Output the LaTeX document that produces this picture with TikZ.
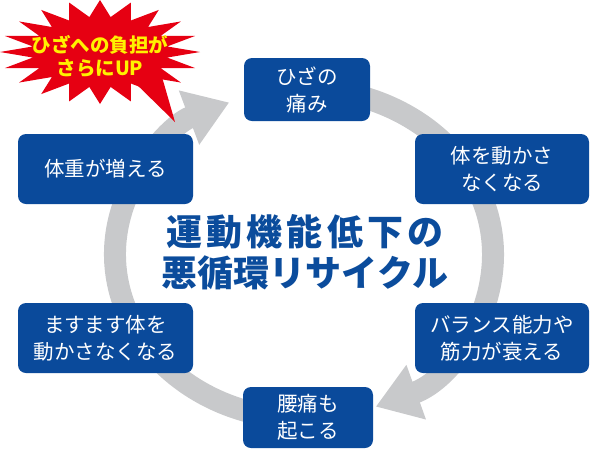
\documentclass[tikz,border=0pt]{standalone}
\usepackage{fontspec}
\setmainfont{Noto Sans CJK JP}
\usetikzlibrary{arrows.meta}
\definecolor{boxblue}{HTML}{0A4A9B}
\definecolor{titleblue}{HTML}{0B4C9C}
\definecolor{ringgray}{HTML}{C8C9CB}
\definecolor{burstred}{HTML}{E60012}
\definecolor{burstyellow}{HTML}{FFF100}
\tikzset{
  box/.style={fill=boxblue, rounded corners=8pt, text=white, align=center,
    font=\fontsize{20.5}{27}\selectfont, inner sep=0pt},
  ring/.style={draw=ringgray, line width=22pt},
  ringtip/.style={-{Triangle[length=43pt,width=55pt]}},
  burst/.style={fill=burstred},
}
\begin{document}
\begin{tikzpicture}[x=1pt,y=-1pt]
\useasboundingbox (0,0) rectangle (590,451);
% ring
\coordinate (c) at (304,254);
\draw[ring, ringtip] (c) ++(-95:189 and 165)
  arc[start angle=-95, end angle=67.7, x radius=189, y radius=165];
\draw[ring, ringtip] (c) ++(100:189 and 165)
  arc[start angle=100, end angle=246.7, x radius=189, y radius=165];
% boxes
\node[box, minimum width=126pt, minimum height=63pt] (hiza) at (307,89.5) {ひざの\\痛み};
\node[box, minimum width=174pt, minimum height=70pt] (ugoka) at (502,169) {体を動かさ\\なくなる};
\node[box, minimum width=174pt, minimum height=70pt] (balance) at (502,338) {バランス能力や\\筋力が衰える};
\node[box, minimum width=130pt, minimum height=61pt] (youtsu) at (308,417.5) {腰痛も\\起こる};
\node[box, minimum width=175pt, minimum height=70pt] (masu) at (105.5,338) {ますます体を\\動かさなくなる};
\node[box, minimum width=175pt, minimum height=70pt] (taiju) at (105.5,169) {体重が増える};
% title
\node[text=titleblue, align=center, font=\bfseries\fontsize{36}{41}\selectfont] (title) at (305,252)
  {{\addfontfeature{LetterSpace=12}運動機能低下の}\\悪循環リサイクル};
% starburst
\fill[burst] (200,52) \foreach \i [evaluate=\i as \r using {1-0.32*mod(\i,2)}] in {1,...,39}
  { -- ({100+100*\r*cos(\i*9)},{52+52*\r*sin(\i*9)}) } -- cycle;
\fill[burst] (128,76) -- (175,122) -- (160,70) -- cycle;
\node[text=burstyellow, align=center, font=\bfseries\fontsize{19.5}{23}\selectfont] (burstText) at (100,56)
  {ひざへの負担が\\さらにUP};
\end{tikzpicture}
\end{document}
